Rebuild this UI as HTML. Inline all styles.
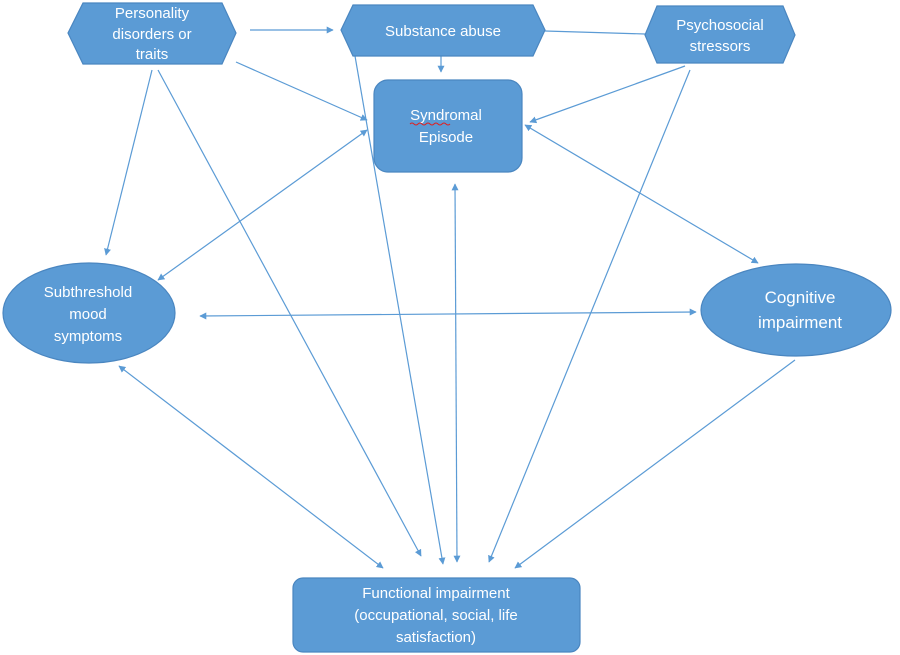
<!DOCTYPE html>
<html><head><meta charset="utf-8"><style>
html,body{margin:0;padding:0;background:#fff;}
svg{display:block;}
text{font-family:"Liberation Sans",sans-serif;fill:#fff;text-anchor:middle;}
</style></head><body>
<svg width="900" height="655" viewBox="0 0 900 655" xmlns="http://www.w3.org/2000/svg">
<defs>
<marker id="a" viewBox="0 0 10 10" refX="9" refY="5" markerWidth="7" markerHeight="7" orient="auto-start-reverse" markerUnits="userSpaceOnUse"><path d="M0,0 L10,5 L0,10 z" fill="#5b9bd5"/></marker>
</defs>
<g stroke="#5b9bd5" stroke-width="1.2" fill="none">
<line x1="250" y1="30" x2="333" y2="30" marker-end="url(#a)"/>
<line x1="441" y1="55" x2="441" y2="72" marker-end="url(#a)"/>
<line x1="545" y1="31" x2="645" y2="34"/>
<line x1="236" y1="62" x2="367" y2="120" marker-end="url(#a)"/>
<line x1="685" y1="66" x2="530" y2="122" marker-end="url(#a)"/>
<line x1="152" y1="70" x2="106" y2="255" marker-end="url(#a)"/>
<line x1="158" y1="70" x2="421" y2="556" marker-end="url(#a)"/>
<line x1="355" y1="56" x2="443" y2="564" marker-end="url(#a)"/>
<line x1="455" y1="184" x2="457" y2="562" marker-start="url(#a)" marker-end="url(#a)"/>
<line x1="690" y1="70" x2="489" y2="562" marker-end="url(#a)"/>
<line x1="367" y1="130" x2="158" y2="280" marker-start="url(#a)" marker-end="url(#a)"/>
<line x1="525" y1="125" x2="758" y2="263" marker-start="url(#a)" marker-end="url(#a)"/>
<line x1="200" y1="316" x2="696" y2="312" marker-start="url(#a)" marker-end="url(#a)"/>
<line x1="119" y1="366" x2="383" y2="568" marker-start="url(#a)" marker-end="url(#a)"/>
<line x1="795" y1="360" x2="515" y2="568" marker-end="url(#a)"/>
</g>
<g fill="#5b9bd5" stroke="#4a86c0" stroke-width="1.2">
<polygon points="68,33 83,3 222,3 236,33 222,64 83,64"/>
<polygon points="341,30 353,5 533,5 545,30 533,56 353,56"/>
<polygon points="645,35 657,6 783,6 795,35 783,63 657,63"/>
<rect x="374" y="80" width="148" height="92" rx="14"/>
<ellipse cx="89" cy="313" rx="86" ry="50"/>
<ellipse cx="796" cy="310" rx="95" ry="46"/>
<rect x="293" y="578" width="287" height="74" rx="10"/>
</g>
<text x="152" y="18" font-size="15">Personality</text>
<text x="152" y="39" font-size="15">disorders or</text>
<text x="152" y="59" font-size="15">traits</text>
<text x="443" y="36" font-size="15">Substance abuse</text>
<text x="720" y="30" font-size="15">Psychosocial</text>
<text x="720" y="51" font-size="15">stressors</text>
<text x="446" y="120" font-size="15">Syndromal</text>
<path d="M410,124 q2,-2 4,0 t4,0 t4,0 t4,0 t4,0 t4,0 t4,0 t4,0 t4,0 t4,0" stroke="#e02020" stroke-width="1" fill="none"/>
<text x="446" y="142" font-size="15">Episode</text>
<text x="88" y="297" font-size="15">Subthreshold</text>
<text x="88" y="319" font-size="15">mood</text>
<text x="88" y="341" font-size="15">symptoms</text>
<text x="800" y="303" font-size="17">Cognitive</text>
<text x="800" y="328" font-size="17">impairment</text>
<text x="436" y="598" font-size="15">Functional impairment</text>
<text x="436" y="620" font-size="15">(occupational, social, life</text>
<text x="436" y="642" font-size="15">satisfaction)</text>
</svg>
</body></html>
